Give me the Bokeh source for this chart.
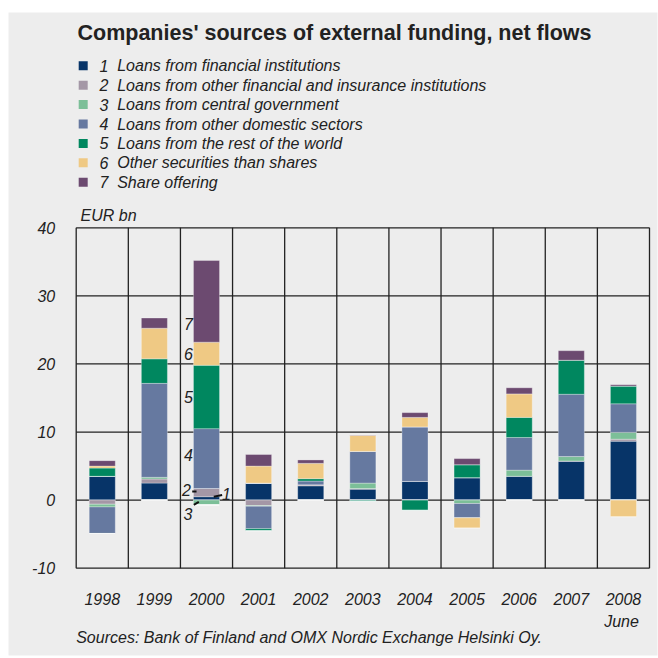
from bokeh.plotting import figure
from bokeh.models import Range1d, FixedTicker
from bokeh.embed import file_html
from bokeh.resources import INLINE
from bokeh.core.properties import value
import numpy as np

# ---------------- data ----------------
years = ["1998", "1999", "2000", "2001", "2002", "2003", "2004", "2005", "2006", "2007", "2008"]
series_numbers = ["1", "2", "3", "4", "5", "6", "7"]
series_names = [
    "Loans from financial institutions",
    "Loans from other financial and insurance institutions",
    "Loans from central government",
    "Loans from other domestic sectors",
    "Loans from the rest of the world",
    "Other securities than shares",
    "Share offering",
]
s1 = [3.5, 2.5, 0.5, 2.5, 2.1, 1.6, 2.75, 3.3, 3.5, 5.7, 8.65]
s2 = [-0.6, 0.6, 1.2, -0.8, 0.15, 0.1, 0.0, 0.0, 0.0, 0.05, 0.3]
s3 = [-0.4, 0.25, -0.7, -0.1, 0.0, 0.8, 0.0, -0.5, 0.9, 0.65, 1.0]
s4 = [-3.9, 13.8, 8.8, -3.3, 0.55, 4.65, 8.0, -2.1, 4.8, 9.15, 4.2]
s5 = [1.2, 3.6, 9.3, -0.3, 0.35, -0.15, -1.5, 1.9, 2.95, 5.0, 2.6]
s6 = [0.3, 4.5, 3.4, 2.5, 2.25, 2.35, 1.4, -1.5, 3.45, 0.0, -2.45]
s7 = [0.8, 1.5, 12.0, 1.7, 0.5, 0.05, 0.7, 0.9, 0.9, 1.4, 0.2]
y_ticks = [-10, 0, 10, 20, 30, 40]
y_tick_labels = ["-10", "0", "10", "20", "30", "40"]

colors = ["#073468", "#A497A6", "#7CBF98", "#6679A0", "#00875F", "#EFC984", "#6C4A70"]

BG = "#EDEDED"
FONT = "Liberation Sans"
TXT = "#222222"
GRID = "#222222"
FS = "16px"

# ---------------- layout (page pixels of the chart box) ----------------
W = H = 658
OFF = 0
PX_L, PX_R = 75.7, 649.0
PY_T, PY_B = 227.3, 567.7
n = len(years)
ymin, ymax = min(y_ticks), max(y_ticks)
kx = n / (PX_R - PX_L)
ky = (ymax - ymin) / (PY_B - PY_T)


def dx(px):
    return (px - PX_L) * kx


def dy(py):
    return ymax - (py - PY_T) * ky


p = figure(width=W, height=H,
           x_range=Range1d(dx(OFF), dx(OFF + W)), y_range=Range1d(dy(OFF + H), dy(OFF)),
           output_backend="svg", toolbar_location=None, min_border=0)
p.background_fill_color = "white"
p.border_fill_color = "white"
p.outline_line_color = None
p.grid.visible = False

# grey panel
p.quad(left=[dx(8)], right=[dx(657)], top=[dy(12)], bottom=[dy(655)],
       fill_color=BG, line_color=None)

# ---------------- box & grid lines ----------------
p.segment(x0=[0] * len(y_ticks), x1=[n] * len(y_ticks), y0=y_ticks, y1=y_ticks,
          line_color=GRID, line_width=1.3)
vx = list(range(0, n + 1))
p.segment(x0=vx, x1=vx, y0=[ymin] * len(vx), y1=[ymax] * len(vx),
          line_color=GRID, line_width=1.3)

# ---------------- bars ----------------
xc = np.arange(n) + 0.5
series = [s1, s2, s3, s4, s5, s6, s7]
pos_base = np.zeros(n)
neg_base = np.zeros(n)
for vals, col in zip(series, colors):
    v = np.array(vals, dtype=float)
    pos = np.where(v > 0, v, 0.0)
    neg = np.where(v < 0, v, 0.0)
    p.vbar(x=xc, width=0.5, bottom=pos_base, top=pos_base + pos,
           fill_color=col, line_color="white", line_alpha=0.3, line_width=1)
    p.vbar(x=xc, width=0.5, bottom=neg_base + neg, top=neg_base,
           fill_color=col, line_color="white", line_alpha=0.3, line_width=1)
    pos_base = pos_base + pos
    neg_base = neg_base + neg

# ---------------- axes ----------------
p.xaxis.fixed_location = ymin
p.yaxis.fixed_location = 0
p.xaxis.ticker = FixedTicker(ticks=list(xc))
p.xaxis.major_label_overrides = {float(x): y for x, y in zip(xc, years)}
p.yaxis.ticker = FixedTicker(ticks=y_ticks)
p.yaxis.major_label_overrides = {t: s for t, s in zip(y_ticks, y_tick_labels)}
for ax in (p.xaxis[0], p.yaxis[0]):
    ax.axis_line_color = None
    ax.major_tick_line_color = None
    ax.minor_tick_line_color = None
    ax.major_tick_out = 0
    ax.major_tick_in = 0
    ax.major_label_text_font = FONT
    ax.major_label_text_font_style = "italic"
    ax.major_label_text_font_size = FS
    ax.major_label_text_color = TXT
p.xaxis.major_label_standoff = 25
p.yaxis.major_label_standoff = 21


def txt(xs, ys, texts, size=FS, style="italic", align="left", baseline="middle"):
    p.text(x=xs, y=ys, text=texts, text_font=value(FONT), text_font_style=style,
           text_font_size=size, text_align=align, text_baseline=baseline, text_color=TXT)


# ---------------- title & legend ----------------
txt([dx(77)], [dy(32)], ["Companies' sources of external funding, net flows"],
    size="21.5px", style="bold")
row_y = [dy(65.3 + i * 19.4) for i in range(len(series_names))]
p.scatter(x=[dx(82.7)] * len(row_y), y=row_y, marker="square", size=9,
          fill_color=colors, line_color=None)
txt([dx(99)] * len(row_y), row_y, series_numbers)
txt([dx(116.7)] * len(row_y), row_y, series_names)

# ---------------- other texts ----------------
txt([dx(80)], [dy(215)], ["EUR bn"])
txt([dx(621)], [dy(620.7)], ["June"], align="center")
txt([dx(75.7)], [dy(636.5)], ["Sources: Bank of Finland and OMX Nordic Exchange Helsinki Oy."])

# segment numbers in the 2000 bar
txt([2.155, 2.155, 2.155, 2.155, 2.117, 2.885, 2.146],
    [25.9, 21.4, 15.2, 6.7, 1.5, 0.9, -2.0],
    ["7", "6", "5", "4", "2", "1", "3"], align="center")
p.segment(x0=[2.226, 2.64, 2.257], y0=[1.26, 0.5, -0.69],
          x1=[2.309, 2.8, 2.353], y1=[1.26, 0.75, -0.25],
          line_color="#111111", line_width=2)

open("out.html", "w").write(file_html(p, INLINE))
